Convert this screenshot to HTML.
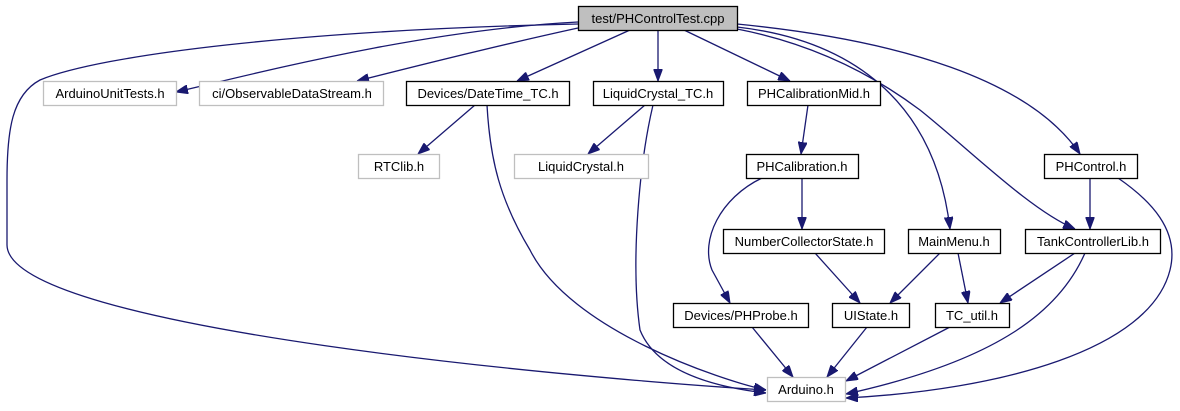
<!DOCTYPE html>
<html><head><meta charset="utf-8"><style>
html,body{margin:0;padding:0;background:#fff;}
svg{display:block;}
text{font-family:"Liberation Sans",sans-serif;font-size:13px;fill:#000;text-anchor:middle;}
.n{fill:#fff;stroke:#000;stroke-width:1.3;}
.g{fill:#fff;stroke:#bfbfbf;stroke-width:1.3;}
.e{fill:none;stroke:#191970;stroke-width:1.3;}
</style></head><body>
<svg width="1180" height="411" viewBox="0 0 1180 411" xmlns="http://www.w3.org/2000/svg">
<defs><marker id="a" viewBox="0 0 12 9" refX="12" refY="4.5" markerWidth="12" markerHeight="9" markerUnits="userSpaceOnUse" orient="auto"><path d="M0,0 L12,4.5 L0,9 Z" fill="#191970" stroke="#191970"/></marker></defs>
<g class="e" marker-end="url(#a)">
<path d="M578,22 C420,30 250,75 176,92"/>
<path d="M578,28 C500,45 420,65 357,81"/>
<path d="M630,30 L517,81"/>
<path d="M658,30 L658,81"/>
<path d="M684,30 L790,81"/>
<path d="M578,24 C300,30 100,55 40,80 C12,95 7,130 7,180 L7,245 C8,330 600,380 766,390"/>
<path d="M737,27 C850,40 935,100 950,229"/>
<path d="M737,29 C820,45 880,80 920,110 C970,150 1030,210 1075,229"/>
<path d="M737,24 C900,40 1030,80 1080,154"/>
<path d="M475,105 L418,154"/>
<path d="M487,105 C490,160 500,200 530,250 C570,330 720,380 766,390"/>
<path d="M645,105 L588,154"/>
<path d="M653,105 C640,160 630,260 640,330 C660,380 740,390 766,393"/>
<path d="M808,105 L801,154"/>
<path d="M802,178 L802,229"/>
<path d="M762,178 C720,198 700,240 712,270 L730,303"/>
<path d="M815,253 L860,303"/>
<path d="M940,253 L890,303"/>
<path d="M958,253 L968,303"/>
<path d="M1075,253 L1000,303"/>
<path d="M1085,253 C1060,310 1000,360 846,394"/>
<path d="M1090,178 L1090,229"/>
<path d="M1118,178 C1150,200 1180,230 1170,270 C1150,350 1000,390 846,398"/>
<path d="M752,327 L793,377"/>
<path d="M867,327 L827,377"/>
<path d="M950,327 L846,381"/>
</g>
<rect x="578.5" y="6.5" width="159" height="24" fill="#bfbfbf" stroke="#000" stroke-width="1.3"/><text x="658" y="23">test/PHControlTest.cpp</text>
<rect class="g" x="43.5" y="81.5" width="133" height="24"/><text x="110" y="98">ArduinoUnitTests.h</text>
<rect class="g" x="199.5" y="81.5" width="184" height="24"/><text x="292" y="98">ci/ObservableDataStream.h</text>
<rect class="n" x="406.5" y="81.5" width="163" height="24"/><text x="488" y="98">Devices/DateTime_TC.h</text>
<rect class="n" x="593.5" y="81.5" width="130" height="24"/><text x="658" y="98">LiquidCrystal_TC.h</text>
<rect class="n" x="747.5" y="81.5" width="133" height="24"/><text x="814" y="98">PHCalibrationMid.h</text>
<rect class="g" x="358.5" y="154.5" width="81" height="24"/><text x="399" y="171">RTClib.h</text>
<rect class="g" x="514.5" y="154.5" width="134" height="24"/><text x="581" y="171">LiquidCrystal.h</text>
<rect class="n" x="746.5" y="154.5" width="112" height="24"/><text x="802" y="171">PHCalibration.h</text>
<rect class="n" x="1044.5" y="154.5" width="93" height="24"/><text x="1091" y="171">PHControl.h</text>
<rect class="n" x="723.5" y="229.5" width="161" height="24"/><text x="804" y="246">NumberCollectorState.h</text>
<rect class="n" x="908.5" y="229.5" width="92" height="24"/><text x="954" y="246">MainMenu.h</text>
<rect class="n" x="1025.5" y="229.5" width="135" height="24"/><text x="1093" y="246">TankControllerLib.h</text>
<rect class="n" x="673.5" y="303.5" width="135" height="24"/><text x="741" y="320">Devices/PHProbe.h</text>
<rect class="n" x="832.5" y="303.5" width="77" height="24"/><text x="871" y="320">UIState.h</text>
<rect class="n" x="935.5" y="303.5" width="74" height="24"/><text x="972" y="320">TC_util.h</text>
<rect class="g" x="767.5" y="377.5" width="78" height="24"/><text x="806" y="394">Arduino.h</text>
</svg>
</body></html>
